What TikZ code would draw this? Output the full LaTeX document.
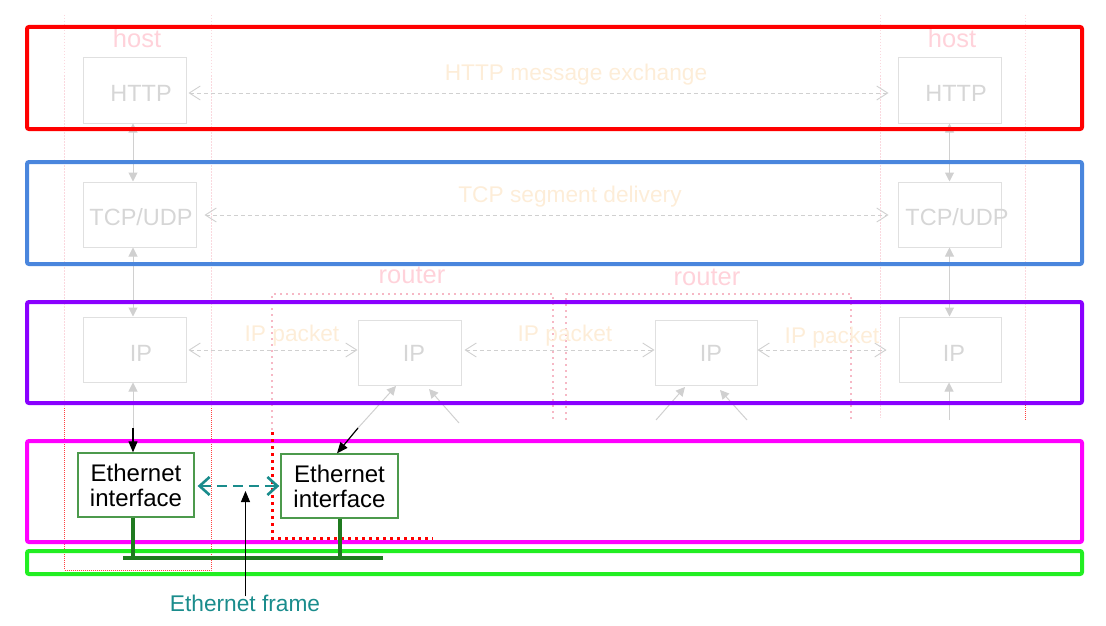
\documentclass[tikz,border=0pt]{standalone}
\usepackage{fontspec}
\setmainfont{Liberation Sans}
\usetikzlibrary{arrows.meta}
\definecolor{fgray}{HTML}{E0E0E0}
\definecolor{ftext}{HTML}{D6D6D6}
\definecolor{farrow}{HTML}{D0D0D0}
\definecolor{forange}{HTML}{FDEDD8}
\definecolor{fpink}{HTML}{FFD2DA}
\definecolor{rpink}{HTML}{F6B8C5}
\definecolor{hpink}{HTML}{FAD8DE}
\definecolor{cred}{HTML}{FF0000}
\definecolor{cblue}{HTML}{4A86DD}
\definecolor{cpurple}{HTML}{8A00FF}
\definecolor{cmag}{HTML}{FF00FF}
\definecolor{cgreen}{HTML}{22EE22}
\definecolor{ethgreen}{HTML}{4C9A4C}
\definecolor{busgreen}{HTML}{1F7A1F}
\definecolor{ethteal}{HTML}{1A8C8C}
\newcommand\boxfs{\fontsize{23.5}{25}\selectfont}
\newcommand\labfs{\fontsize{22.7}{25}\selectfont}
\newcommand\pinkfs{\fontsize{25.5}{27}\selectfont}
\newcommand\ethfs{\fontsize{24}{25}\selectfont}
\tikzset{
  fbox/.style={draw=fgray, line width=1pt, minimum width=103pt, minimum height=65pt, inner sep=0pt},
  ftxt/.style={text=ftext, font=\boxfs, inner sep=0pt},
  flab/.style={text=forange, font=\labfs, inner sep=0pt},
  plab/.style={text=fpink, font=\pinkfs, inner sep=0pt},
  fdash/.style={draw=farrow, line width=0.9pt, dash pattern=on 4pt off 3pt,
    {Straight Barb[length=11pt,width=14pt,line width=0.9pt]}-{Straight Barb[length=11pt,width=14pt,line width=0.9pt]}},
  fvert/.style={draw=farrow, line width=1pt, {Triangle[length=9pt,width=9pt]}-{Triangle[length=9pt,width=9pt]}},
  fup/.style={draw=farrow, line width=1pt, -{Triangle[length=9pt,width=9pt]}},
  layer/.style={line width=4pt, rounded corners=2pt},
  ethbox/.style={draw=ethgreen, line width=1.3pt, fill=white, minimum width=116pt, minimum height=64pt, inner sep=0pt, align=center, font=\ethfs, text=black},
  bus/.style={draw=busgreen, line width=4pt},
  blk/.style={draw=black, line width=1.2pt, -{Triangle[length=11pt,width=9pt]}},
  rdot/.style={draw=rpink, line width=2pt, dash pattern=on 2pt off 4pt},
  reddot/.style={draw=cred, line width=3pt, dash pattern=on 3pt off 4pt},
  hdot/.style={draw=hpink, line width=0.8pt, dash pattern=on 1.5pt off 1.5pt},
  hred/.style={draw=cred!75, line width=0.7pt, dash pattern=on 1pt off 1pt},
  tealarrow/.style={draw=ethteal, line width=2.6pt, dash pattern=on 10pt off 6pt,
    {Straight Barb[length=10pt,width=18pt,line width=2.6pt]}-{Straight Barb[length=10pt,width=18pt,line width=2.6pt]}},
}
\begin{document}
\begin{tikzpicture}[x=1pt,y=-1pt]
\useasboundingbox (0,0) rectangle (1106,626);

% ---------- faded host / router outlines ----------
\draw[hdot] (64.5,15) -- (64.5,408);
\draw[hdot] (211,15) -- (211,408);
\draw[hred] (64.5,408) -- (64.5,570) -- (211,570) -- (211,408);
\draw[hdot] (880,15) -- (880,418);
\draw[hdot] (1025,15) -- (1025,405);
\draw[hred] (1025,405) -- (1025,420);
\node[plab] (hostL) at (137,38) {host};
\node[plab] (hostR) at (952,38) {host};

\draw[rdot] (272,430) -- (272,294) -- (553,294) -- (553,420);
\draw[rdot] (566,420) -- (566,294) -- (851,294) -- (851,420);
\node[plab] (routerA) at (412,275) {router};
\node[plab] (routerB) at (707,277) {router};

% ---------- faded protocol boxes ----------
\node[fbox] (httpL) at (134.5,90.5) {};
\node[ftxt] (httpLt) at (141,93) {HTTP};
\node[fbox] (httpR) at (949.5,90.5) {};
\node[ftxt] (httpRt) at (956,93) {HTTP};
\node[fbox, minimum width=113pt] (tcpL) at (139.5,214.5) {};
\node[ftxt] (tcpLt) at (141,217) {TCP/UDP};
\node[fbox] (tcpR) at (949.5,214.5) {};
\node[ftxt] (tcpRt) at (957,217) {TCP/UDP};
\node[fbox] (ipL) at (134.5,349.5) {};
\node[ftxt] (ipLt) at (141,353) {IP};
\node[fbox] (ipA) at (409.5,353) {};
\node[ftxt] (ipAt) at (414,353) {IP};
\node[fbox, minimum width=102pt] (ipB) at (706,353) {};
\node[ftxt] (ipBt) at (711,353) {IP};
\node[fbox, minimum width=102pt] (ipR) at (950,349.5) {};
\node[ftxt] (ipRt) at (954,353) {IP};

% faded horizontal exchanges (yshift is in page units: positive = up)
\draw[fdash, shorten <=2pt, shorten >=9pt] ([yshift=-2.5pt]httpL.east) -- ([yshift=-2.5pt]httpR.west);
\node[flab] (httpmsg) at (576,75) {HTTP message exchange};
\draw[fdash, shorten <=8pt, shorten >=9pt] ([yshift=-0.5pt]tcpL.east) -- ([yshift=-0.5pt]tcpR.west);
\node[flab] (tcpmsg) at (570,197) {TCP segment delivery};
\draw[fdash, shorten <=2pt] ([yshift=-0.5pt]ipL.east) -- ([yshift=3pt]ipA.west);
\node[flab] (ipmsgA) at (292,336) {IP packet};
\draw[fdash, shorten <=3pt] ([yshift=3pt]ipA.east) -- ([yshift=3pt]ipB.west);
\node[flab] (ipmsgB) at (565,336) {IP packet};
\draw[fdash, shorten >=12pt] ([yshift=3pt]ipB.east) -- ([yshift=-0.5pt]ipR.west);
\node[flab] (ipmsgC) at (832,338) {IP packet};

% faded vertical arrows
\draw[fvert] ([xshift=-1.5pt]httpL.south) -- ([xshift=-1.5pt]httpL.south |- tcpL.north);
\draw[fvert] ([xshift=-1.5pt]ipL.north |- tcpL.south) -- ([xshift=-1.5pt]ipL.north);
\draw[fvert] (httpR.south) -- (tcpR.north);
\draw[fvert] (tcpR.south) -- (tcpR.south |- ipR.north);

% faded arrows from below into IP boxes
\coordinate (ipLmid) at (133,428);
\coordinate (rAmid) at (358,428);
\coordinate (rAfree) at (459,423);
\coordinate (rBfree1) at (656,420);
\coordinate (rBfree2) at (747,420);
\coordinate (rRfree) at (949,420);
\draw[fup] (ipLmid) -- ([xshift=-1.5pt]ipL.south);
\draw[fup] (rAmid) -- ([xshift=-13.5pt]ipA.south);
\draw[fup] (rAfree) -- ([xshift=19.5pt,yshift=-3pt]ipA.south);
\draw[fup] (rBfree1) -- ([xshift=-21pt,yshift=-1pt]ipB.south);
\draw[fup] (rBfree2) -- ([xshift=14pt,yshift=-4pt]ipB.south);
\draw[fup] (rRfree) -- (rRfree |- ipR.south);

% ---------- coloured layer boxes ----------
\draw[layer, cred] (27,27) rectangle (1082,129);
\draw[layer, cblue] (27,162) rectangle (1082,264);
\draw[layer, cpurple] (27,302) rectangle (1082,403);
\draw[layer, cmag] (27,441) rectangle (1082,542);
\draw[layer, cgreen] (27,551) rectangle (1082,574);

% ---------- router edge near link layer ----------
\draw[reddot] (272,432) -- (272,538) -- (433,538);

% ---------- Ethernet interfaces ----------
\node[ethbox] (ethL) at (136,485) {Ethernet\\interface};
\node[ethbox, minimum width=117pt] (ethR) at (339.5,486) {Ethernet\\interface};

\draw[blk] (ipLmid) -- (ipLmid |- ethL.north);
\draw[blk] (rAmid) -- ([xshift=-2.5pt]ethR.north);

\draw[tealarrow, shorten <=3pt, shorten >=1pt] ([yshift=-1pt]ethL.east) -- ([yshift=-1pt]ethL.east -| ethR.west);

% bus
\coordinate (busL) at (123,558);
\coordinate (busR) at (383,558);
\draw[bus] ([xshift=-3pt]ethL.south) -- ([xshift=-3pt]ethL.south |- busL);
\draw[bus] (ethR.south) -- (ethR.south |- busL);
\draw[bus] (busL) -- (busR);

% Ethernet frame label
\node[text=ethteal, font=\labfs, inner sep=0pt] (frame) at (245,603) {Ethernet frame};
\coordinate (frtip) at (245.5,491);
\draw[blk] ([xshift=0.5pt,yshift=-2pt]frame.north) -- (frtip);
\end{tikzpicture}
\end{document}
